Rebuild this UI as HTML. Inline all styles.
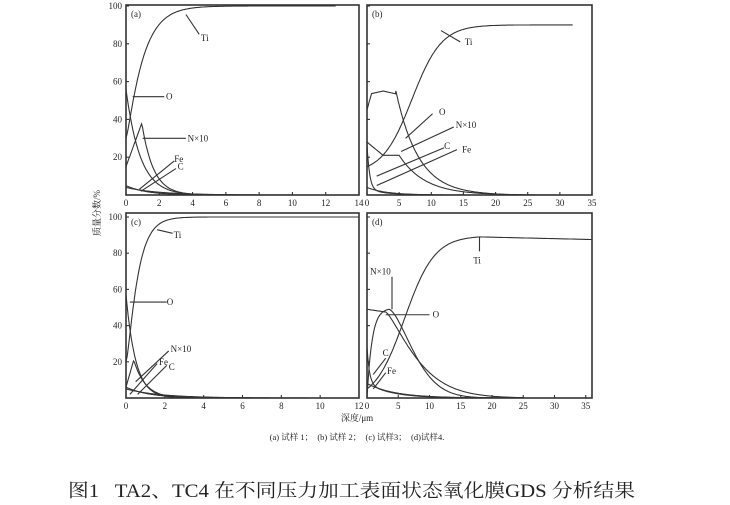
<!DOCTYPE html><html><head><meta charset="utf-8"><style>
body{margin:0;background:#fff;width:730px;height:505px;overflow:hidden}
svg{display:block}
text{font-family:"Liberation Serif","Noto Serif CJK SC",serif;fill:#222}
</style></head><body>
<svg id="s" width="730" height="505" xmlns="http://www.w3.org/2000/svg">
<g id="g" fill="none" stroke="#333" stroke-width="1.1"></g>
<g id="t" font-size="9"></g>
<text x="357" y="421" font-size="9" text-anchor="middle">深度/μm</text>
<text x="357" y="440" font-size="8.5" text-anchor="middle" fill="#444" xml:space="preserve">(a) 试样 1；  (b) 试样 2；  (c) 试样3；  (d)试样4.</text>
<text transform="translate(100,213) rotate(-90)" font-size="9" text-anchor="middle">质量分数/%</text>
<text x="68" y="497" font-size="18.5" textLength="567" lengthAdjust="spacingAndGlyphs" xml:space="preserve">图1   TA2、TC4 在不同压力加工表面状态氧化膜GDS 分析结果</text>
</svg>
<script>
const g=document.getElementById('g'),t=document.getElementById('t');
function el(p,n,a){const e=document.createElementNS('http://www.w3.org/2000/svg',n);for(const k in a)if(k!='txt')e.setAttribute(k,a[k]);p.appendChild(e);if(a.txt!==undefined)e.textContent=a.txt;return e}
function panel(P){
 const {x0,x1,y0,y1,xmax,ytop,xt,lab,yl}=P;
 el(g,'rect',{x:x0,y:y0,width:x1-x0,height:y1-y0,'stroke-width':1.6});
 const X=v=>x0+(x1-x0)*v/xmax, Y=v=>y1-(y1-ytop)*v/100;
 for(const v of xt){el(g,'line',{x1:X(v),y1:y1,x2:X(v),y2:y1-3});el(t,'text',{x:X(v),y:y1+11,'text-anchor':'middle',txt:v});}
 for(const v of [20,40,60,80,100]){el(g,'line',{x1:x0,y1:Y(v),x2:x0+3,y2:Y(v)});if(yl)el(t,'text',{x:x0-4,y:Y(v)+3,'text-anchor':'end',txt:v});}
 el(t,'text',{x:x0+5,y:y0+12,txt:lab});
 for(const f of P.curves){let d='';for(let i=0;i<=200;i++){const v=f.a+(f.b-f.a)*i/200;d+=(i?'L':'M')+X(v).toFixed(1)+','+Y(f.f(v)).toFixed(1)}el(g,'path',{d})}
 for(const L of P.labels){el(g,'polyline',{points:L.p.map(q=>X(q[0])+','+Y(q[1])).join(' ')});el(t,'text',{x:X(L.t[0]),y:Y(L.t[1])+3,txt:L.s})}
}
const sig=(v,c,w)=>1/(1+Math.exp(-(v-c)/w));
panel({x0:126,x1:359,y0:5,y1:195,xmax:14,ytop:6,xt:[0,2,4,6,8,10,12,14],lab:'(a)',yl:1,
 curves:[{a:0,b:12.6,f:v=>30+70*(1-Math.exp(-v/0.9))**1.3},
  {a:0,b:11,f:v=>56*Math.exp(-v/0.85)},
  {a:0,b:11,f:v=>v<0.95?15+23*v/0.95:38*Math.exp(-(v-0.95)/0.7)},
  {a:0,b:11,f:v=>5*Math.exp(-v/1.2)},{a:0,b:11,f:v=>4*Math.exp(-v/2)}],
 labels:[{p:[[4.4,85],[3.6,95.5]],t:[4.5,83],s:'Ti'},{p:[[0.4,52],[2.3,52]],t:[2.4,52],s:'O'},
  {p:[[1,30],[3.6,30]],t:[3.7,30],s:'N×10'},{p:[[0.8,3],[2.9,18]],t:[2.9,19],s:'Fe'},{p:[[0.9,2],[3,14]],t:[3.1,15],s:'C'}]});
panel({x0:367,x1:592,y0:5,y1:195,xmax:35,ytop:6,xt:[0,5,10,15,20,25,30,35],lab:'(b)',yl:0,
 curves:[{a:0,b:32,f:v=>15+75*(sig(v,7,2.3)-sig(0,7,2.3))/(1-sig(0,7,2.3))},
  {a:0,b:18,f:v=>v<4.5?47+8*Math.min(1,v/0.7)-1.5*Math.abs(v-2.5)/2:55*Math.exp(-(v-4.5)/3.5)},
  {a:18,b:32,f:v=>55*Math.exp(-13.5/3.5)*Math.exp(-(v-18)/3)},
  {a:0,b:20,f:v=>v<5?28-7*Math.min(1,v/2.5):21*Math.exp(-(v-5)/4)},
  {a:0,b:10,f:v=>24*Math.exp(-v/0.4)+3*Math.exp(-v/3)},{a:0,b:30,f:v=>4*Math.exp(-v/3)}],
 labels:[{p:[[14.5,81],[11.5,87]],t:[15.2,81],s:'Ti'},{p:[[6,30],[10.2,43]],t:[11.2,44],s:'O'},
  {p:[[5.3,23],[13.5,36]],t:[13.8,37],s:'N×10'},{p:[[1.5,10],[12,25]],t:[12,26],s:'C'},{p:[[1.5,5],[14,24]],t:[14.8,24],s:'Fe'}]});
panel({x0:126,x1:359,y0:213,y1:398,xmax:12,ytop:217,xt:[0,2,4,6,8,10,12],lab:'(c)',yl:1,
 curves:[{a:0,b:12,f:v=>20+80*(1-Math.exp(-v/0.5))**1.5},
  {a:0,b:11,f:v=>57*Math.exp(-v/0.5)},
  {a:0,b:11,f:v=>v<0.4?6+15*v/0.4:21*Math.exp(-(v-0.4)/0.6)},
  {a:0,b:11,f:v=>6*Math.exp(-v/1.2)},{a:0,b:11,f:v=>5*Math.exp(-v/1.8)}],
 labels:[{p:[[2.4,91],[1.6,93]],t:[2.45,90],s:'Ti'},{p:[[0.2,53],[2.1,53]],t:[2.1,53],s:'O'},
  {p:[[0.5,9],[2.2,26]],t:[2.3,27],s:'N×10'},{p:[[0.2,2],[1.6,19]],t:[1.7,20],s:'Fe'},{p:[[0.6,2],[2.1,18]],t:[2.2,17],s:'C'}]});
panel({x0:367,x1:592,y0:213,y1:398,xmax:36,ytop:217,xt:[0,5,10,15,20,25,30,35],lab:'(d)',yl:0,
 curves:[{a:0,b:36,f:v=>v>18?89-0.08*(v-18):5+84*(sig(v,6,2.4)-sig(0,6,2.4))/(sig(18,6,2.4)-sig(0,6,2.4))},
  {a:0,b:25,f:v=>v<3?49-1.5*v/3:47.5*Math.exp(-Math.pow((v-3)/6,1.3))},
  {a:0,b:25,f:v=>v<3.5?49*(1-Math.exp(-v/0.8))/(1-Math.exp(-3.5/0.8)):49*Math.exp(-Math.pow((v-3.5)/5.2,1.6))},
  {a:0,b:25,f:v=>20*Math.exp(-v/0.4)+8*Math.exp(-v/4)},{a:0,b:25,f:v=>8*Math.exp(-v/4.5)}],
 labels:[{p:[[18,89],[18,81]],t:[17,76],s:'Ti'},{p:[[4,49],[4,67]],t:[0.5,70],s:'N×10'},
  {p:[[3,46],[10,46]],t:[10.5,46],s:'O'},{p:[[1,13],[3,22]],t:[2.5,25],s:'C'},{p:[[1,5],[3,14]],t:[3.2,15],s:'Fe'}]});
</script></body></html>
